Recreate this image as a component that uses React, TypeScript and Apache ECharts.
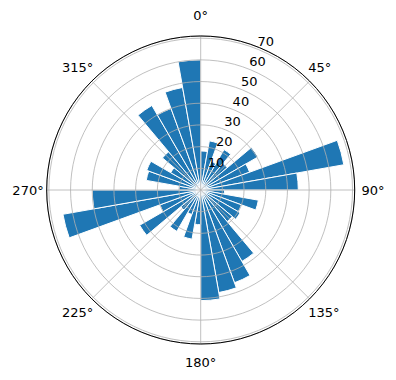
import React, { useEffect, useRef } from "react";
import * as echarts from "echarts";

// Sector start angles (degrees, clockwise from north), 10° wide each
const sectorStarts = [
  0, 10, 20, 30, 40, 50, 60, 70, 80, 90, 100, 110, 120, 130, 140, 150, 160, 170,
  180, 190, 200, 210, 220, 230, 240, 250, 260, 270, 280, 290, 300, 310, 320, 330, 340, 350,
];
// Bar lengths for each sector
const radii = [
  18, 23, 14, 21.5, 16, 30.5, 24, 67, 45, 11, 27, 20, 21, 19, 38, 45.5, 48, 51,
  16, 23, 12, 22, 12, 32.5, 20, 64.5, 50, 10, 25.5, 26.5, 16, 23, 45, 40, 48, 60,
];
const radiusMax = 71;
const radiusInterval = 10;
const angleInterval = 45;
const diagonalTicks = [45, 135, 225, 315];
const sideTicks = [90, 270];
const verticalTicks = [0, 180];

export default function App() {
  const ref = useRef<HTMLDivElement>(null);
  useEffect(() => {
    if (!ref.current) return;
    const chart = echarts.init(ref.current, null, { renderer: "svg" });
    const C: [number, number] = [200.7, 190];
    const R = 154;
    const font = "DejaVu Sans";
    const gridColor = "#b0b0b0";
    const hidden = {
      axisLine: { show: false },
      axisTick: { show: false },
      axisLabel: { show: false },
      splitLine: { show: false },
    };
    const textStyle = { color: "#000", fontFamily: font, fontSize: 13 };
    const labelAxis = (polarIndex: number, ticks: number[], margin: number, padding: number[]) => ({
      polarIndex,
      type: "value",
      min: 0,
      max: 360,
      interval: angleInterval,
      startAngle: 90,
      clockwise: true,
      z: 10,
      axisLine: { show: false },
      axisTick: { show: false },
      splitLine: { show: false },
      axisLabel: {
        margin,
        padding,
        ...textStyle,
        formatter: (v: number) => (ticks.indexOf(v) >= 0 ? v + "°" : ""),
      },
    });
    chart.setOption({
      animation: false,
      polar: [
        { center: C, radius: R },
        { center: C, radius: R },
        { center: C, radius: R },
        { center: C, radius: [10, R + 10] },
        { center: C, radius: R },
        { center: C, radius: R },
      ],
      angleAxis: [
        {
          polarIndex: 0,
          type: "category",
          data: sectorStarts.map(String),
          startAngle: 90,
          clockwise: true,
          boundaryGap: true,
          ...hidden,
        },
        {
          polarIndex: 1,
          type: "value",
          min: 0,
          max: 360,
          interval: angleInterval,
          startAngle: 90,
          clockwise: true,
          z: 5,
          axisLine: { show: true, lineStyle: { color: "#000", width: 1 } },
          axisTick: { show: false },
          axisLabel: { show: false },
          splitLine: { show: true, lineStyle: { color: gridColor, width: 0.8 } },
        },
        labelAxis(2, diagonalTicks, -2, [8.5, 0, 8.5, 0]),
        {
          polarIndex: 3,
          type: "value",
          min: 0,
          max: 360,
          startAngle: 67.5,
          clockwise: true,
          ...hidden,
        },
        labelAxis(4, sideTicks, 3, [0, 0, 0, 3.8]),
        labelAxis(5, verticalTicks, 3, [8.5, 0, 11.5, 0]),
      ],
      radiusAxis: [
        { polarIndex: 0, type: "value", min: 0, max: radiusMax, ...hidden },
        {
          polarIndex: 1,
          type: "value",
          min: 0,
          max: radiusMax,
          interval: radiusInterval,
          z: 5,
          axisLine: { show: false },
          axisTick: { show: false },
          axisLabel: { show: false },
          splitLine: { show: true, lineStyle: { color: gridColor, width: 0.8 } },
        },
        { polarIndex: 2, type: "value", min: 0, max: radiusMax, ...hidden },
        {
          polarIndex: 3,
          type: "value",
          min: 0,
          max: radiusMax,
          interval: radiusInterval,
          z: 10,
          axisLine: { show: false },
          axisTick: { show: false },
          splitLine: { show: false },
          axisLabel: {
            margin: -3.4,
            align: "center",
            verticalAlign: "middle",
            ...textStyle,
            formatter: (v: number) => (v > 0 && v % 10 === 0 ? String(v) : ""),
          },
        },
        { polarIndex: 4, type: "value", min: 0, max: radiusMax, ...hidden },
        { polarIndex: 5, type: "value", min: 0, max: radiusMax, ...hidden },
      ],
      series: [
        {
          type: "bar",
          coordinateSystem: "polar",
          polarIndex: 0,
          data: radii,
          barCategoryGap: "0%",
          itemStyle: { color: "#1f77b4", borderColor: "#ffffff", borderWidth: 1 },
        },
      ],
    });
    return () => chart.dispose();
  }, []);
  return (
    <div
      ref={ref}
      style={{ position: "fixed", left: 0, top: 0, width: 396, height: 380, background: "#fff" }}
    />
  );
}
